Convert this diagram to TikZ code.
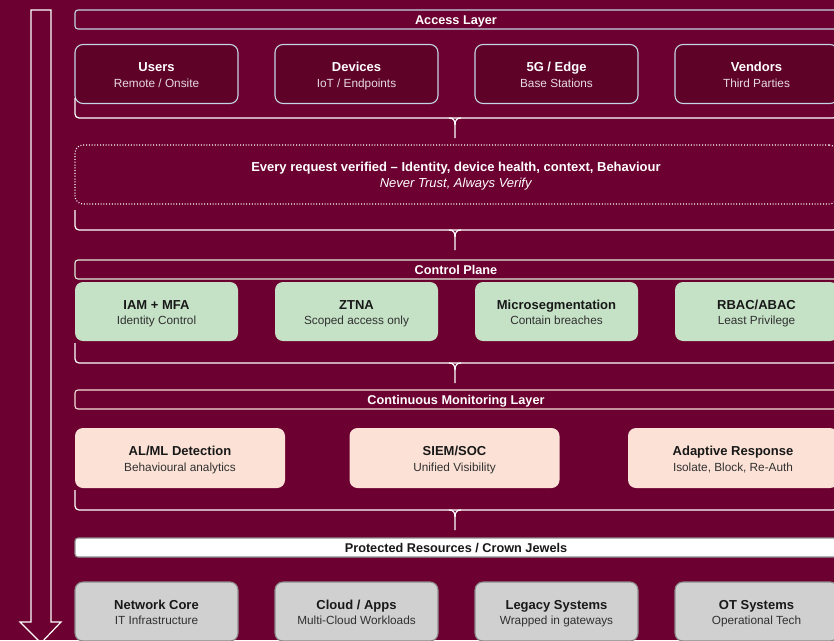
\documentclass[tikz,border=0pt]{standalone}
\usepackage{fontspec}
\setmainfont{Liberation Sans}
\usetikzlibrary{positioning}

\definecolor{wine}{RGB}{108,0,48}
\definecolor{winedark}{RGB}{94,2,40}
\definecolor{steel}{RGB}{196,212,228}
\definecolor{sage}{RGB}{222,234,216}
\definecolor{blush}{RGB}{246,224,214}
\definecolor{mint}{RGB}{197,226,198}
\definecolor{peach}{RGB}{252,226,214}
\definecolor{stone}{RGB}{208,208,208}
\definecolor{stoneline}{RGB}{140,140,140}
\definecolor{ink}{RGB}{24,24,24}
\definecolor{subink}{RGB}{48,48,48}
\definecolor{paletext}{RGB}{232,218,226}

\tikzset{
  layerbar/.style={draw=#1, line width=1.1pt, rounded corners=3pt,
    minimum width=762pt, minimum height=19pt, inner sep=0pt,
    text height=11pt, text depth=1pt,
    font=\bfseries\fontsize{12.7}{15}\selectfont, text=white},
  card/.style={rounded corners=8pt, line width=1.1pt, minimum width=163pt,
    minimum height=59pt, inner sep=0pt, align=center, text=ink,
    font=\fontsize{11.8}{15.5}\selectfont,
    execute at begin node={\colorlet{subcol}{subink}}},
  accesscard/.style={card, draw=steel, fill=winedark, text=white,
    execute at begin node={\colorlet{subcol}{paletext}}},
  controlcard/.style={card, fill=mint},
  watchcard/.style={card, fill=peach, minimum width=210pt, minimum height=60pt},
  assetcard/.style={card, draw=stoneline, fill=stone},
  bracepath/.style={draw=white, line width=1.2pt},
}
\newcommand{\cardtitle}[1]{{\bfseries\fontsize{13}{15.5}\selectfont\rule{0pt}{13.5pt}#1}}
\newcommand{\subline}[1]{{\color{subcol}\vphantom{Ay}#1}}
% brace joining one layer to the next: #1 tip name, #2 y of the bar
\newcommand{\stackbrace}[2]{%
  \draw[bracepath, rounded corners=4pt] (75,#2-20) -- (75,#2) -- (837,#2) -- (837,#2-20);
  \coordinate (#1) at (455,#2+20);
  \draw[bracepath] (449,#2) .. controls (453,#2) and (455,#2+2) .. (455,#2+7) -- (#1);
  \draw[bracepath] (461,#2) .. controls (457,#2) and (455,#2+2) .. (455,#2+7);
}

\begin{document}
\begin{tikzpicture}[x=1pt, y=-1pt]
% Canvas
\useasboundingbox (0,0) rectangle (834,640);
\clip (0,0) rectangle (834,640);
\fill[wine] (0,0) rectangle (834,640);
% Flow arrow down the left side
\draw[white, line width=1.2pt] (31,10) -- (51,10) -- (51,622) -- (61,622) -- (41,643) -- (20,622) -- (31,622) -- cycle;

% Access layer
\node[layerbar=steel] (accessbar) at (456,19.5) {Access Layer};
\node[accesscard] (users) at (156.5,74) {\cardtitle{Users}\\\subline{Remote / Onsite}};
\node[accesscard] (devices) at (356.5,74) {\cardtitle{Devices}\\\subline{IoT / Endpoints}};
\node[accesscard] (edge) at (556.5,74) {\cardtitle{5G / Edge}\\\subline{Base Stations}};
\node[accesscard] (vendors) at (756.5,74) {\cardtitle{Vendors}\\\subline{Third Parties}};
\stackbrace{tip1}{118}

% Verification band
\node[draw=white, dash pattern=on 1pt off 1.8pt, line width=1.1pt, rounded corners=8pt,
  minimum width=762pt, minimum height=59pt, align=center, text=white,
  font=\fontsize{13}{16}\selectfont] (verify) at (456,174.5)
  {\rule{0pt}{12.5pt}\textbf{Every request verified -- Identity, device health, context, Behaviour}\\\textit{Never Trust, Always Verify}};
\stackbrace{tip2}{230}

% Control plane
\node[layerbar=sage] (controlbar) at (456,269.5) {Control Plane};
\node[controlcard] (iam) at (156.5,311.5) {\cardtitle{IAM + MFA}\\\subline{Identity Control}};
\node[controlcard] (ztna) at (356.5,311.5) {\cardtitle{ZTNA}\\\subline{Scoped access only}};
\node[controlcard] (microseg) at (556.5,311.5) {\cardtitle{Microsegmentation}\\\subline{Contain breaches}};
\node[controlcard] (rbac) at (756.5,311.5) {\cardtitle{RBAC/ABAC}\\\subline{Least Privilege}};
\stackbrace{tip3}{363}

% Continuous monitoring
\node[layerbar=blush] (watchbar) at (456,399.5) {Continuous Monitoring Layer};
\node[watchcard] (detect) at (180,458) {\cardtitle{AL/ML Detection}\\\subline{Behavioural analytics}};
\node[watchcard] (siem) at (454.5,458) {\cardtitle{SIEM/SOC}\\\subline{Unified Visibility}};
\node[watchcard] (respond) at (733,458) {\cardtitle{Adaptive Response}\\\subline{Isolate, Block, Re-Auth}};
\stackbrace{tip4}{510}

% Protected resources
\node[layerbar=stoneline, fill=white, text=ink] (assetbar) at (456,547.5) {Protected Resources / Crown Jewels};
\node[assetcard] (netcore) at (156.5,611.5) {\cardtitle{Network Core}\\\subline{IT Infrastructure}};
\node[assetcard] (cloud) at (356.5,611.5) {\cardtitle{Cloud / Apps}\\\subline{Multi-Cloud Workloads}};
\node[assetcard] (legacy) at (556.5,611.5) {\cardtitle{Legacy Systems}\\\subline{Wrapped in gateways}};
\node[assetcard] (ot) at (756.5,611.5) {\cardtitle{OT Systems}\\\subline{Operational Tech}};
\end{tikzpicture}
\end{document}
